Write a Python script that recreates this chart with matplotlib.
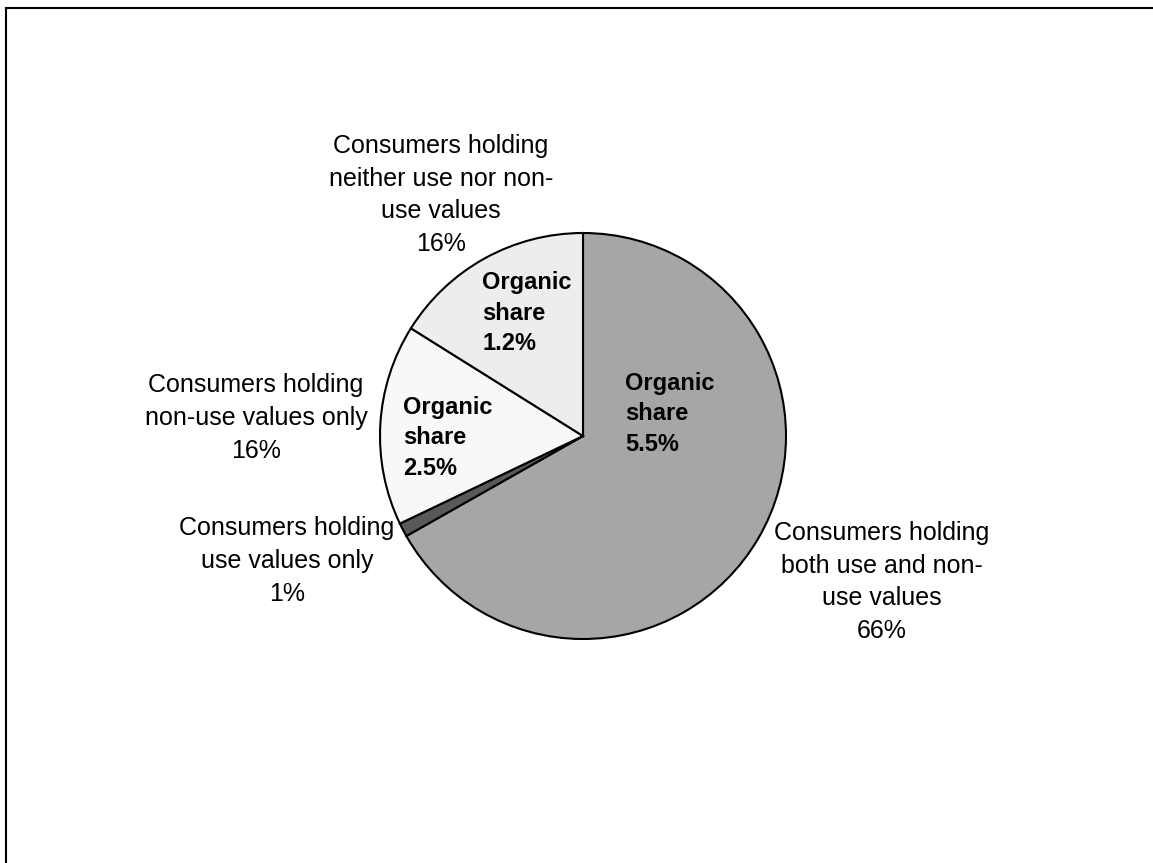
"""Pie chart of consumer value groups with organic shares, 1153x863 PNG."""
import matplotlib

matplotlib.use("Agg")
import matplotlib.pyplot as plt  # noqa: E402
from matplotlib.patches import Rectangle  # noqa: E402

plt.rcParams["font.family"] = ["Liberation Sans", "DejaVu Sans"]

W, H = 1153, 863
DPI = 100

# data, clockwise from 12 o'clock
groups = [
    "Consumers holding\nboth use and non-\nuse values",
    "Consumers holding\nuse values only",
    "Consumers holding\nnon-use values only",
    "Consumers holding\nneither use nor non-\nuse values",
]
shares = [66.8, 1.1, 16.0, 16.1]
share_labels = ["66%", "1%", "16%", "16%"]
organic = ["5.5%", None, "2.5%", "1.2%"]

colors = ["#a6a6a6", "#595959", "#f8f8f8", "#ededed"]

# label positions in pixels (x, y from top)
outer_pos = [(882, 582), (287, 561), (256, 418), (441, 195)]
inner_pos = [(625, 414), None, (403, 438), (482, 313)]

CENTER = (583, H - 436)
RADIUS = 203

fig = plt.figure(figsize=(W / DPI, H / DPI), dpi=DPI)
ax = fig.add_axes([0, 0, 1, 1])
ax.pie(
    shares,
    colors=colors,
    startangle=90,
    counterclock=False,
    center=CENTER,
    radius=RADIUS,
    wedgeprops={"edgecolor": "black", "linewidth": 1.5},
)
ax.set_xlim(0, W)
ax.set_ylim(0, H)
ax.set_aspect("auto")
ax.axis("off")

for name, pct, (x, y) in zip(groups, share_labels, outer_pos):
    ax.text(x, H - y, f"{name}\n{pct}", ha="center", va="center",
            multialignment="center", fontsize=18, linespacing=1.46)

for org, pos in zip(organic, inner_pos):
    if org is None:
        continue
    x, y = pos
    ax.text(x, H - y, f"Organic\nshare\n{org}", ha="left", va="center",
            fontsize=17, fontweight="bold", linespacing=1.42)

# chart area border (only top/left edges fall inside the image)
fig.add_artist(Rectangle((6 / W, -0.1), 1.2, (H - 8) / H + 0.1,
                         transform=fig.transFigure, fill=False,
                         edgecolor="black", linewidth=1.5))

fig.savefig("out.png", dpi=DPI)
plt.close(fig)
